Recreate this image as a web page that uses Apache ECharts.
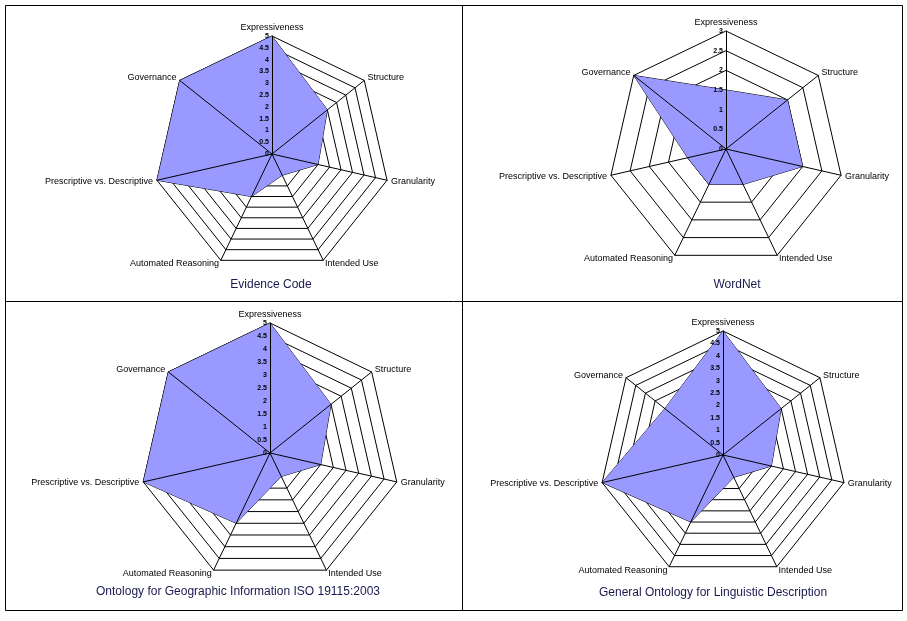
<!DOCTYPE html>
<html>
<head>
<meta charset="utf-8">
<script src="https://cdn.jsdelivr.net/npm/echarts@6/dist/echarts.min.js"></script>
<style>
html,body{margin:0;padding:0;background:#fff;}
#c{width:907px;height:621px;}
</style>
</head>
<body>
<div id="c"></div>
<script>
// Axis names in clockwise order starting from the top
const axisNames = ['Expressiveness', 'Structure', 'Granularity', 'Intended Use', 'Automated Reasoning', 'Prescriptive vs. Descriptive', 'Governance'];
const chartTitles = ['Evidence Code', 'WordNet', 'Ontology for Geographic Information ISO 19115:2003', 'General Ontology for Linguistic Description'];
const evidenceCode = [5, 3, 2, 1, 2, 5, 5];
const wordNet = [1.5, 2, 2, 1, 1, 1, 3];
const geoOntology = [5, 3, 2, 1, 3, 5, 5];
const goldOntology = [5, 3, 2, 1, 3, 5, 3];
const scaleMax = [5, 3, 5, 5];
const tickStep = 0.5;

const seriesValues = [evidenceCode, wordNet, geoOntology, goldOntology];
const layouts = [
  {center: [272, 154], radius: 118, title: [271, 285]},
  {center: [726, 149], radius: 118, title: [737, 285]},
  {center: [270, 453], radius: 130, title: [238, 592]},
  {center: [723, 455], radius: 124, title: [713, 593]}
];

// ECharts places indicators counter-clockwise; reorder so they run clockwise
const order = [0, 6, 5, 4, 3, 2, 1];
const reorder = arr => order.map(i => arr[i]);

const radars = [];
const series = [];
const FONT = 'Liberation Sans, Arial, sans-serif';

layouts.forEach((L, k) => {
  const mx = scaleMax[k];
  const indicators = reorder(axisNames).map(n => ({name: n, min: 0, max: mx}));
  radars.push({
    center: L.center, radius: L.radius, startAngle: 90,
    splitNumber: mx / tickStep, shape: 'polygon',
    indicator: indicators,
    axisName: {color: '#000', fontSize: 9, fontFamily: FONT},
    nameGap: 4,
    splitLine: {lineStyle: {color: '#000', width: 1}},
    splitArea: {show: false},
    axisLine: {show: false},
    axisTick: {show: false},
    axisLabel: {show: false},
    z: 1
  });
  series.push({
    type: 'radar', radarIndex: radars.length - 1, symbol: 'none', z: 2,
    lineStyle: {color: '#000', width: 1},
    areaStyle: {color: '#9999FF', opacity: 1},
    data: [{value: reorder(seriesValues[k])}]
  });
  // overlay: spokes and scale labels drawn above the filled area
  const ovInd = reorder(axisNames).map((n, i) => i === 0
    ? {name: n, min: 0, max: mx, axisLabel: {show: true}}
    : {name: n, min: 0, max: mx});
  radars.push({
    center: L.center, radius: L.radius, startAngle: 90,
    splitNumber: mx / tickStep, shape: 'polygon',
    indicator: ovInd,
    axisName: {show: false},
    splitLine: {show: false},
    splitArea: {show: false},
    axisLine: {show: true, lineStyle: {color: '#000', width: 1}},
    axisTick: {show: false},
    axisLabel: {show: false, color: '#000', fontSize: 7, fontWeight: 'bold', fontFamily: FONT, margin: 3},
    z: 5
  });
});

const graphics = [
  {type: 'rect', shape: {x: 5.5, y: 5.5, width: 897, height: 605}, style: {fill: 'none', stroke: '#000', lineWidth: 1}, z: 10},
  {type: 'line', shape: {x1: 462.5, y1: 5, x2: 462.5, y2: 610}, style: {stroke: '#000', lineWidth: 1}, z: 10},
  {type: 'line', shape: {x1: 5, y1: 301.5, x2: 902, y2: 301.5}, style: {stroke: '#000', lineWidth: 1}, z: 10}
];
layouts.forEach((L, k) => {
  graphics.push({type: 'text', x: L.title[0], y: L.title[1], z: 10,
    style: {text: chartTitles[k], fill: '#1a1a50', fontSize: 12, fontFamily: FONT, textAlign: 'center', textVerticalAlign: 'middle'}});
});

const chart = echarts.init(document.getElementById('c'));
chart.setOption({
  animation: false,
  backgroundColor: '#fff',
  radar: radars,
  series: series,
  graphic: graphics
});
</script>
</body>
</html>
